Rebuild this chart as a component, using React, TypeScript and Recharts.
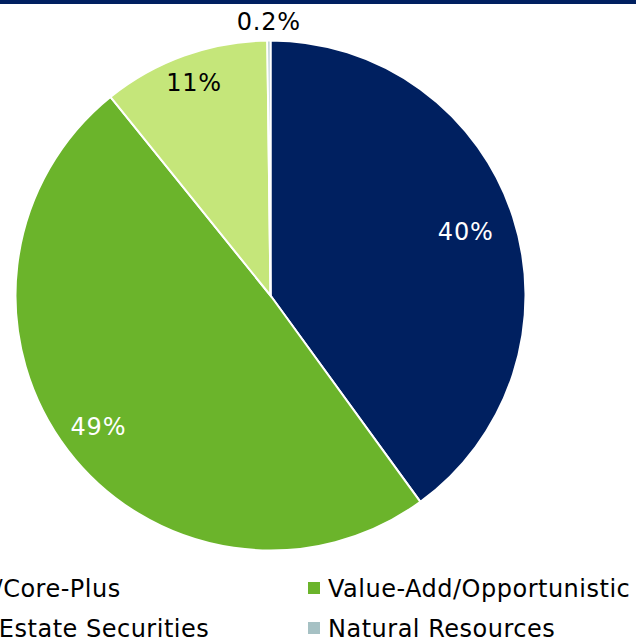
import React from 'react';
import { PieChart, Pie, Cell, Legend } from 'recharts';

const categories = [
  'Core/Core-Plus',
  'Value-Add/Opportunistic',
  'Real Estate Securities',
  'Natural Resources',
];
const shares = [40.0, 49.2, 10.6, 0.2];
const shareLabels = ['40%', '49%', '11%', '0.2%'];

const colors = ['#002060', '#6BB42B', '#C5E67A', '#A6C1C4'];
const labelColors = ['#ffffff', '#ffffff', '#000000', '#000000'];
// how far out each label sits, as a share of the radius
const labelRadius = [0.805, 0.85, 0.885, 1.072];

const FONT = '"DejaVu Sans", Verdana, sans-serif';
const RAD = Math.PI / 180;

const data = categories.map((name, i) => ({ name, value: shares[i] }));

const renderLabel = (props: any) => {
  const { cx, cy, midAngle, outerRadius, index } = props;
  const r = outerRadius * labelRadius[index];
  const x = cx + r * Math.cos(-midAngle * RAD);
  const y = cy + r * Math.sin(-midAngle * RAD);
  return (
    <text
      x={x}
      y={y}
      fill={labelColors[index]}
      textAnchor="middle"
      dominantBaseline="central"
      fontFamily={FONT}
      fontSize={24}
      letterSpacing={0.8}
    >
      {shareLabels[index]}
    </text>
  );
};

const renderLegend = (props: any) => {
  const payload = props.payload || [];
  return (
    <svg width={636} height={80} style={{ overflow: 'visible', display: 'block' }}>
      {payload.map((entry: any) => {
        // keep the original category order: two columns, two rows
        const i = categories.indexOf(entry.value);
        const tx = i % 2 === 0 ? -63 : 328;
        const base = i < 2 ? 36.5 : 76.5;
        return (
          <g key={entry.value}>
            <rect x={tx - 20} y={base - 14.5} width={12} height={12} fill={colors[i]} />
            <text
              x={tx}
              y={base}
              fontFamily={FONT}
              fontSize={24}
              letterSpacing={0.5}
              fill="#000"
            >
              {entry.value}
            </text>
          </g>
        );
      })}
    </svg>
  );
};

export default function App() {
  return (
    <div
      style={{
        position: 'absolute',
        left: 0,
        top: 0,
        width: 636,
        height: 639,
        overflow: 'hidden',
        background: '#fff',
      }}
    >
      <div
        style={{
          position: 'absolute',
          left: 0,
          top: 0,
          width: 636,
          height: 4,
          background: '#002060',
          zIndex: 2,
        }}
      />
      <PieChart width={636} height={639} margin={{ top: 0, right: 0, bottom: 0, left: 0 }}>
        <Pie
          data={data}
          dataKey="value"
          nameKey="name"
          cx={270.5}
          cy={295.5}
          outerRadius={255}
          startAngle={90}
          endAngle={-270}
          stroke="#ffffff"
          strokeWidth={2}
          label={renderLabel}
          labelLine={false}
          isAnimationActive={false}
        >
          {data.map((d, i) => (
            <Cell key={d.name} fill={colors[i]} />
          ))}
        </Pie>
        <Legend
          content={renderLegend}
          wrapperStyle={{ position: 'absolute', left: 0, top: 560, width: 636, height: 80 }}
        />
      </PieChart>
    </div>
  );
}
